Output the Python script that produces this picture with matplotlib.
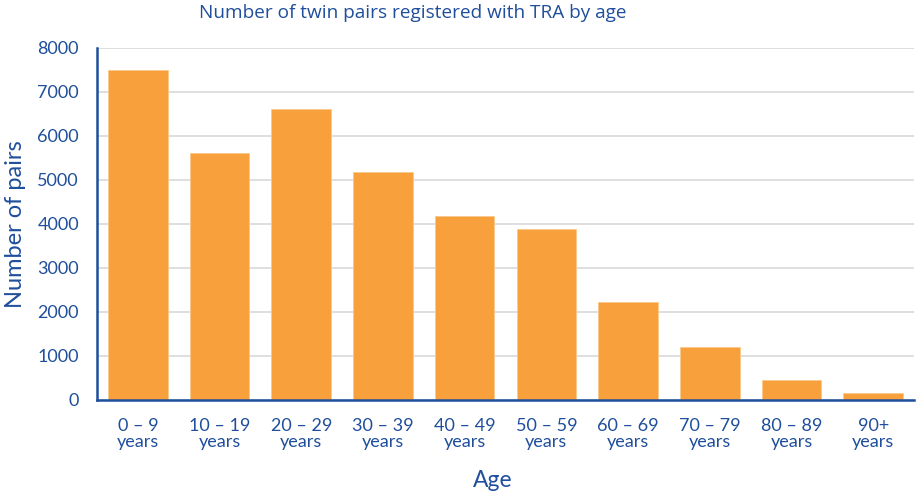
import matplotlib
matplotlib.use("Agg")
import matplotlib.pyplot as plt

categories = ["0 – 9\nyears", "10 – 19\nyears", "20 – 29\nyears", "30 – 39\nyears",
              "40 – 49\nyears", "50 – 59\nyears", "60 – 69\nyears", "70 – 79\nyears",
              "80 – 89\nyears", "90+\nyears"]
values = [7490, 5610, 6610, 5180, 4180, 3890, 2220, 1200, 455, 170]
yticks = [0, 1000, 2000, 3000, 4000, 5000, 6000, 7000, 8000]

blue = "#1F4E9C"
orange = "#F7A03C"

plt.rcParams['font.family'] = ['Lato', 'DejaVu Sans']

fig = plt.figure(figsize=(9.17, 4.95), dpi=100)
ax = fig.add_axes([97/917, 95/495, (914-97)/917, (400-48)/495])

x = list(range(len(categories)))
ax.bar(x, values, width=0.73, color=orange, edgecolor="#FBC98A", linewidth=0.6, zorder=3)

ax.set_xlim(-0.5, 9.5)
ax.set_ylim(0, 8000)
ax.set_yticks(yticks)
ax.set_yticklabels([str(v) for v in yticks])
ax.set_xticks(x)
ax.set_xticklabels(categories, linespacing=1.0)
ax.grid(axis='y', color="#D9D9D9", linewidth=1.2, zorder=0)
ax.tick_params(axis='both', length=0, colors=blue, labelsize=13)
ax.tick_params(axis='y', pad=13)
ax.tick_params(axis='x', pad=13)

for s in ['top', 'right']:
    ax.spines[s].set_visible(False)
for s in ['left', 'bottom']:
    ax.spines[s].set_color(blue)
    ax.spines[s].set_linewidth(1.8)
ax.spines['left'].set_zorder(4)
ax.spines['bottom'].set_zorder(4)

ax.set_ylabel("Number of pairs", color=blue, fontsize=17)
ax.set_xlabel("Age", color=blue, fontsize=16.5)
ax.yaxis.set_label_coords(-0.100, 0.5)
ax.xaxis.set_label_coords(0.485, -0.23)
ax.xaxis.label.set_va('center')
ax.yaxis.label.set_va('center')

fig.text(413/917, 1 - 13/495, "Number of twin pairs registered with TRA by age",
         color=blue, fontsize=13.7, ha='center', va='center',
         family=['Open Sans', 'DejaVu Sans'])

fig.savefig("out.png", dpi=100, facecolor="white")
